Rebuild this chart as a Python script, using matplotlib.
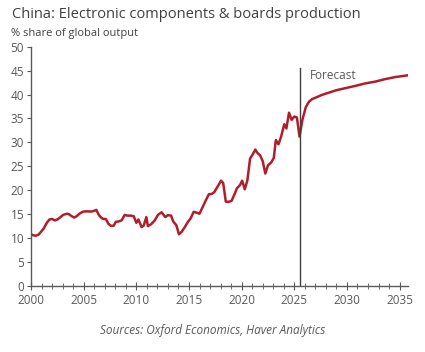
import matplotlib
matplotlib.use("Agg")
import matplotlib.pyplot as plt
from matplotlib.ticker import MultipleLocator

plt.rcParams['font.family'] = ['Open Sans', 'DejaVu Sans']

# Historic + forecast series (year, % share of global output)
years = [2000.0, 2000.2, 2000.45, 2000.7, 2000.9, 2001.2, 2001.5, 2001.75, 2002.0, 2002.25,
         2002.5, 2002.75, 2003.05, 2003.4, 2003.6, 2003.85, 2004.1, 2004.35, 2004.6, 2004.95,
         2005.3, 2005.75, 2006.0, 2006.2, 2006.45, 2006.7, 2006.9, 2007.1, 2007.35, 2007.6,
         2007.85, 2008.05, 2008.35, 2008.6, 2008.9, 2009.15, 2009.45, 2009.75, 2010.0, 2010.2,
         2010.5, 2010.7, 2010.95, 2011.1, 2011.4, 2011.75, 2012.05, 2012.4, 2012.75, 2013.0,
         2013.3, 2013.5, 2013.8, 2014.05, 2014.3, 2014.6, 2014.9, 2015.15, 2015.45, 2015.75,
         2016.0, 2016.3, 2016.6, 2016.9, 2017.15, 2017.4, 2017.7, 2018.05, 2018.25, 2018.5,
         2018.8, 2019.05, 2019.35, 2019.55, 2019.85, 2020.05, 2020.3, 2020.55, 2020.8, 2021.0,
         2021.3, 2021.5, 2021.75, 2022.0, 2022.25, 2022.5, 2022.8, 2023.05, 2023.25, 2023.5,
         2023.75, 2024.05, 2024.25, 2024.5, 2024.75, 2025.0, 2025.25, 2025.5, 2025.77, 2026.1,
         2026.4, 2026.7, 2027.2, 2027.6, 2028.3, 2029.0, 2029.8, 2030.8, 2031.7, 2032.7,
         2033.6, 2034.6, 2035.75]
share = [10.8, 10.6, 10.5, 10.7, 11.2, 12.0, 13.2, 13.9, 14.0, 13.7,
         13.9, 14.3, 14.85, 15.1, 15.0, 14.6, 14.3, 14.6, 15.1, 15.55,
         15.6, 15.55, 15.7, 15.9, 14.8, 14.2, 14.0, 14.0, 13.0, 12.55,
         12.6, 13.4, 13.5, 13.7, 14.85, 14.7, 14.7, 14.6, 13.2, 13.9,
         12.3, 12.6, 14.4, 12.5, 12.9, 13.7, 14.85, 15.4, 14.4, 14.8,
         14.7, 13.5, 12.7, 10.8, 11.3, 12.3, 13.4, 14.1, 15.5, 15.3,
         15.1, 16.5, 17.9, 19.2, 19.2, 19.6, 20.7, 22.0, 21.5, 17.6,
         17.6, 17.8, 19.3, 20.4, 21.1, 22.0, 20.2, 22.1, 26.6, 27.3,
         28.5, 27.8, 27.3, 26.1, 23.5, 25.2, 25.8, 26.7, 30.5, 29.6,
         31.2, 33.8, 32.9, 36.2, 34.7, 35.4, 35.2, 31.2, 34.7, 37.4,
         38.5, 39.05, 39.5, 39.9, 40.4, 40.9, 41.3, 41.8, 42.3, 42.7,
         43.2, 43.65, 44.0]

forecast_start = 2025.5
x_ticks = [2000, 2005, 2010, 2015, 2020, 2025, 2030, 2035]
y_ticks = [0, 5, 10, 15, 20, 25, 30, 35, 40, 45, 50]

title = "China: Electronic components & boards production"
subtitle = "% share of global output"
source = "Sources: Oxford Economics, Haver Analytics"

gray = "#595959"
fig = plt.figure(figsize=(4.25, 3.52), dpi=100)
ax = fig.add_axes([0.073, 0.1875, 0.887, 0.68])

ax.plot(years, share, color="#B01E2A", lw=1.8, solid_joinstyle="round")
ax.plot([forecast_start, forecast_start], [0, 45.5], color="#404040", lw=1.0)
ax.text(forecast_start + 1.0, 44.0, "Forecast", color=gray, fontsize=8.5, va="center", ha="left")

ax.set_xlim(2000, 2035.8)
ax.set_ylim(0, 50)
ax.set_xticks(x_ticks)
ax.set_yticks(y_ticks)
ax.xaxis.set_minor_locator(MultipleLocator(1))
for s in ["top", "right"]:
    ax.spines[s].set_visible(False)
for s in ["left", "bottom"]:
    ax.spines[s].set_color(gray)
    ax.spines[s].set_linewidth(1.0)
ax.tick_params(axis="y", direction="out", length=3, color=gray, labelcolor=gray, labelsize=8.5, pad=2)
ax.tick_params(axis="x", which="major", direction="inout", length=6, color=gray, labelcolor=gray, labelsize=8.5, pad=3)
ax.tick_params(axis="x", which="minor", direction="inout", length=5, color=gray)

fig.text(0.028, 0.958, title, fontsize=10.5, color="#404040", va="center", ha="left")
fig.text(0.026, 0.905, subtitle, fontsize=8.0, color="#404040", va="center", ha="left")
fig.text(0.5, 0.06, source, fontsize=8.5, color=gray, style="italic", va="center", ha="center")

fig.savefig("out.png", dpi=100)
